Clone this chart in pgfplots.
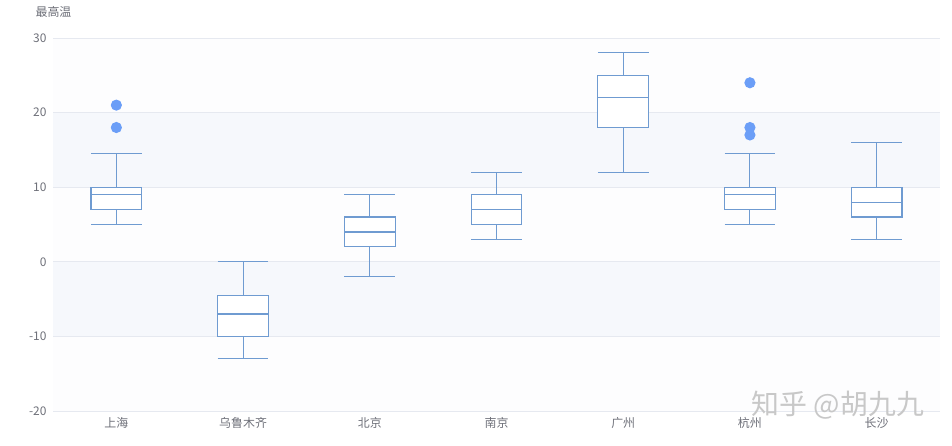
\documentclass[border=0pt]{standalone}
\usepackage{fontspec}
\setmainfont{Noto Sans CJK SC}
\usepackage{pgfplots}
\pgfplotsset{compat=1.18}
\usepgfplotslibrary{statistics}

\definecolor{boxc}{HTML}{6F9BD1}
\definecolor{outc}{HTML}{6B9EF7}
\definecolor{gridc}{HTML}{E6E9F0}
\definecolor{bandc}{HTML}{F6F8FC}
\definecolor{bandw}{HTML}{FDFDFE}
\definecolor{txtc}{HTML}{6E7079}
\definecolor{wmc}{HTML}{C8C8C8}

\pgfplotsset{
  cbox/.style={draw=boxc, line width=1.1bp, mark=*, mark size=5bp,
    mark options={draw=outc, fill=outc}},
}

\begin{document}
\begin{tikzpicture}
\path[use as bounding box] (0,0) rectangle (952bp,446bp);
% background bands (axis spans 35bp..408bp, 7.46bp per degree)
\fill[bandw] (53bp,35bp) rectangle (940bp,408bp);
\fill[bandc] (53bp,109.6bp) rectangle (940bp,184.2bp);
\fill[bandc] (53bp,258.8bp) rectangle (940bp,333.4bp);
\begin{axis}[
  at={(53bp,35bp)}, anchor=south west,
  scale only axis, width=887bp, height=373bp,
  xmin=-0.5, xmax=6.5, ymin=-20, ymax=30,
  xtick={0,...,6},
  xticklabels={上海,乌鲁木齐,北京,南京,广州,杭州,长沙},
  ytick={-20,-10,0,10,20,30},
  ymajorgrids, grid style={gridc, line width=0.8bp},
  axis line style={draw=none},
  major tick length=0pt,
  tick label style={font=\fontsize{12}{14}\selectfont, text=txtc},
  /pgf/number format/assume math mode=true,
  yticklabel style={xshift=-3bp},
  xticklabel style={yshift=-3bp},
  boxplot/draw direction=y,
  boxplot/box extend=0.4,
  boxplot/whisker extend=0.4,
  boxplot/every box/.style={fill=white},
]
% 上海
\addplot[cbox, boxplot prepared={draw position=0,
  lower whisker=5, lower quartile=7, median=9,
  upper quartile=10, upper whisker=14.5}]
  table[row sep=\\, y index=0] {data\\ 18\\ 21\\};
% 乌鲁木齐
\addplot[cbox, boxplot prepared={draw position=1,
  lower whisker=-13, lower quartile=-10, median=-7,
  upper quartile=-4.5, upper whisker=0}]
  coordinates {};
% 北京
\addplot[cbox, boxplot prepared={draw position=2,
  lower whisker=-2, lower quartile=2, median=4,
  upper quartile=6, upper whisker=9}]
  coordinates {};
% 南京
\addplot[cbox, boxplot prepared={draw position=3,
  lower whisker=3, lower quartile=5, median=7,
  upper quartile=9, upper whisker=12}]
  coordinates {};
% 广州
\addplot[cbox, boxplot prepared={draw position=4,
  lower whisker=12, lower quartile=18, median=22,
  upper quartile=25, upper whisker=28}]
  coordinates {};
% 杭州
\addplot[cbox, boxplot prepared={draw position=5,
  lower whisker=5, lower quartile=7, median=9,
  upper quartile=10, upper whisker=14.5}]
  table[row sep=\\, y index=0] {data\\ 17\\ 18\\ 24\\};
% 长沙
\addplot[cbox, boxplot prepared={draw position=6,
  lower whisker=3, lower quartile=6, median=8,
  upper quartile=10, upper whisker=16}]
  coordinates {};
\end{axis}
\node[text=txtc, font=\fontsize{12}{14}\selectfont] at (53.5bp,434bp) {最高温};
\node[text=wmc, font=\fontsize{28}{30}\selectfont] at (838bp,41bp) {知乎 @胡九九};
\end{tikzpicture}
\end{document}
